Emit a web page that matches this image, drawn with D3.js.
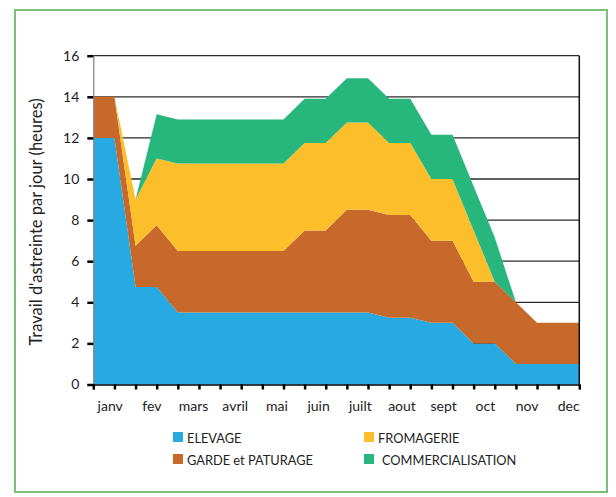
<!DOCTYPE html>
<html>
<head>
<meta charset="utf-8">
<script src="https://cdn.jsdelivr.net/npm/d3@7"></script>
<style>
  html, body { margin:0; padding:0; background:#fff; }
  svg { display:block; font-family: Lato, "Open Sans", sans-serif; }
</style>
</head>
<body>
<svg id="chart" width="616" height="497"></svg>
<script>
// --- Data (half-month steps, 24 points) ---
const months = ["janv","fev","mars","avril","mai","juin","juilt","aout","sept","oct","nov","dec"];
const elevage           = [12,12,4.75,4.75,3.5,3.5,3.5,3.5,3.5,3.5,3.5,3.5,3.5,3.5,3.25,3.25,3,3,2,2,1,1,1,1];
const garde             = [2,2,2,3,3,3,3,3,3,3,4,4,5,5,5,5,4,4,3,3,3,2,2,2];
const fromagerie        = [0,0,2.25,3.25,4.25,4.25,4.25,4.25,4.25,4.25,4.25,4.25,4.25,4.25,3.5,3.5,3,3,2.5,0,0,0,0,0];
const commercialisation = [0,0,0,2.15,2.15,2.15,2.15,2.15,2.15,2.15,2.15,2.15,2.15,2.15,2.15,2.15,2.15,2.15,2.15,2.15,0,0,0,0];
const yTicks = [0,2,4,6,8,10,12,14,16];

const keys = ["ELEVAGE","GARDE et PATURAGE","FROMAGERIE","COMMERCIALISATION"];
const colors = {"ELEVAGE":"#27a9e1","GARDE et PATURAGE":"#c6692a","FROMAGERIE":"#fcbf2b","COMMERCIALISATION":"#27b67c"};

const rows = elevage.map((v,i) => ({
  i,
  "ELEVAGE": v,
  "GARDE et PATURAGE": garde[i],
  "FROMAGERIE": fromagerie[i],
  "COMMERCIALISATION": commercialisation[i]
}));

const svg = d3.select("#chart");

// outer frame
svg.append("rect")
  .attr("x",15).attr("y",10).attr("width",592).attr("height",482)
  .attr("fill","none").attr("stroke","#7cc07c").attr("stroke-width",2);

// scales
const x = d3.scaleLinear().domain([0, rows.length-1]).range([93.3, 579.3]);
const y = d3.scaleLinear().domain([0,16]).range([384.5, 55.7]);
const xm = d3.scalePoint().domain(months).range([x(0.8), x(22.5)]);

// gridlines (behind areas)
svg.append("g").selectAll("line")
  .data(yTicks.filter(d => d > 0))
  .enter().append("line")
  .attr("x1", x(0)).attr("x2", x(rows.length-1))
  .attr("y1", d => y(d)).attr("y2", d => y(d))
  .attr("stroke","#2a2a2a").attr("stroke-width",1.3);

// stacked areas
const series = d3.stack().keys(keys)(rows);
const area = d3.area()
  .x(d => x(d.data.i))
  .y0(d => y(d[0]))
  .y1(d => y(d[1]));

svg.append("g").selectAll("path")
  .data(series)
  .enter().append("path")
  .attr("fill", d => colors[d.key])
  .attr("d", area);

// right border of plot
svg.append("line")
  .attr("x1", x(rows.length-1)).attr("x2", x(rows.length-1))
  .attr("y1", y(16)).attr("y2", y(0))
  .attr("stroke","#111").attr("stroke-width",1.5);

// y axis
const gy = svg.append("g").attr("transform",`translate(${x(0)},0)`)
  .call(d3.axisLeft(y).tickValues(yTicks).tickSize(6).tickPadding(8));
gy.select(".domain").attr("stroke","#888").attr("stroke-width",1.3);
gy.selectAll(".tick line").attr("stroke","#000").attr("stroke-width",2.5);
gy.selectAll(".tick text").attr("font-size",14).attr("fill","#222")
  .attr("font-family","Lato, 'Open Sans', sans-serif");

// x axis
const gx = svg.append("g").attr("transform",`translate(0,${y(0)})`)
  .call(d3.axisBottom(x).tickValues(d3.range(rows.length)).tickSize(5).tickFormat(""));
gx.select(".domain").attr("stroke","#000").attr("stroke-width",1.5);
gx.selectAll(".tick line").attr("stroke","#000").attr("stroke-width",2.5);

svg.append("g").selectAll("text")
  .data(months)
  .enter().append("text")
  .attr("x", d => xm(d)).attr("y", 411)
  .attr("text-anchor","middle")
  .attr("font-size",14).attr("fill","#222")
  .text(d => d);

// y label
svg.append("text")
  .attr("transform","translate(42,222) rotate(-90)")
  .attr("text-anchor","middle")
  .attr("font-size",16.5).attr("fill","#222")
  .text("Travail d'astreinte par jour (heures)");

// legend
const legendPos = [
  {k:"ELEVAGE", x:173, y:432, tx:187},
  {k:"FROMAGERIE", x:364, y:432, tx:378},
  {k:"GARDE et PATURAGE", x:173, y:454, tx:187},
  {k:"COMMERCIALISATION", x:364, y:454, tx:382}
];
const lg = svg.append("g").selectAll("g").data(legendPos).enter().append("g");
lg.append("rect")
  .attr("x", d => d.x).attr("y", d => d.y).attr("width",10).attr("height",10)
  .attr("fill", d => colors[d.k]);
lg.append("text")
  .attr("x", d => d.tx).attr("y", d => d.y + 11)
  .attr("font-size",12.8).attr("fill","#222")
  .text(d => d.k);
</script>
</body>
</html>
